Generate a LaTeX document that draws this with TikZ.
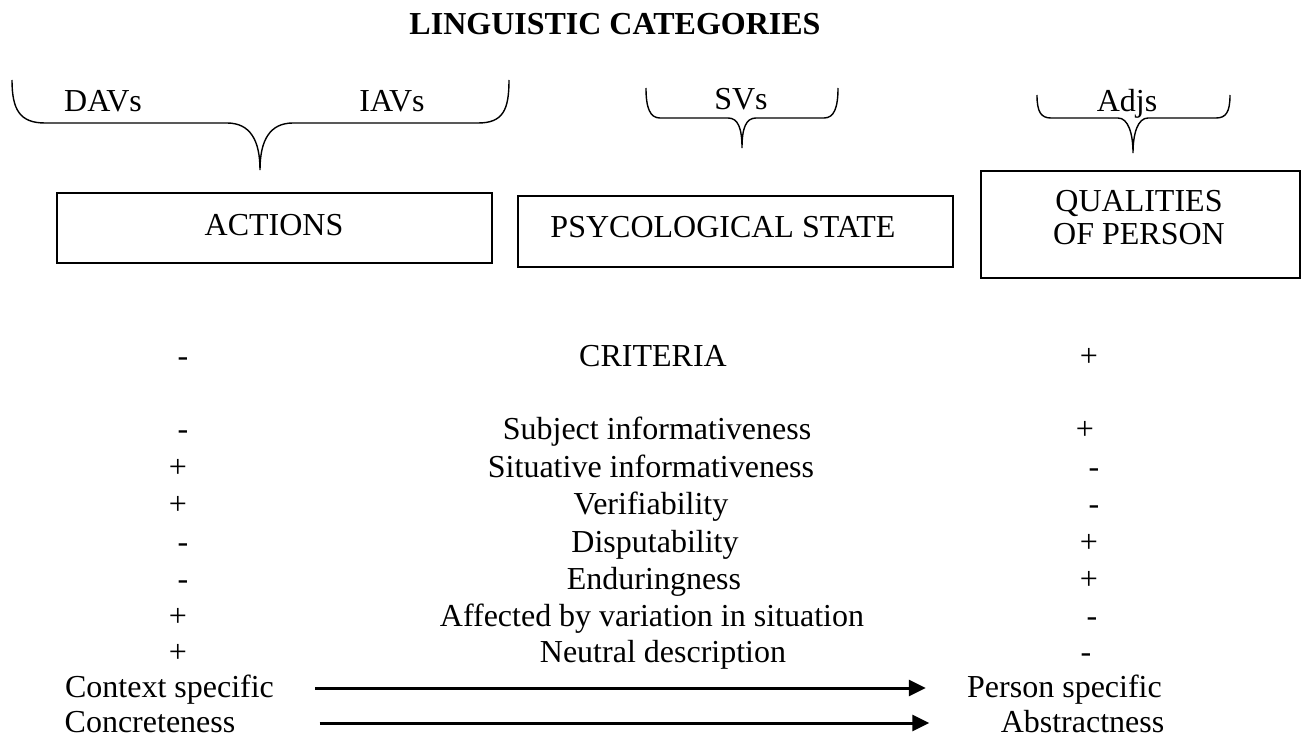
\documentclass[tikz,border=0pt]{standalone}
\usepackage{fontspec}
\setmainfont{Liberation Serif}
\usetikzlibrary{arrows.meta}
\tikzset{
  txt/.style={inner sep=0pt, text height=1em, text depth=0.05em, font=\fontsize{16}{16.5}\selectfont},
  catbox/.style={draw, line width=0.8pt, inner sep=0pt},
  grpbrace/.style={line width=0.7pt},
  longarrow/.style={line width=1.5pt, -{Triangle[length=8.5pt,width=8pt]}},
}
\begin{document}
\begin{tikzpicture}[x=0.5pt,y=-0.5pt]
\useasboundingbox (0,0) rectangle (1307,738);
\node[txt, font={\fontsize{16}{16.5}\selectfont\bfseries}] (title) at (615,25) {LINGUISTIC CATEGORIES};

% groups
\node[txt] (davs) at (103,102) {DAVs};
\node[txt] (iavs) at (392,102) {IAVs};
\node[txt] (svs) at (741,100) {SVs};
\node[txt] (adjs) at (1127,102) {Adjs};
\draw[grpbrace] (12,80) .. controls (12,110) and (20,123) .. (45,123) -- (227,123)
  .. controls (250,123) and (260,140) .. (260,170) .. controls (260,140) and (270,123) .. (293,123)
  -- (478,123) .. controls (503,123) and (509,110) .. (509,80);
\draw[grpbrace] (646,88) .. controls (646,108) and (650,118) .. (660,118) -- (728,118)
  .. controls (738,118) and (742,128) .. (742,148) .. controls (742,128) and (746,118) .. (756,118)
  -- (824,118) .. controls (834,118) and (838,108) .. (838,88);
\draw[grpbrace] (1037,95) .. controls (1037,112) and (1041,118) .. (1051,118) -- (1118,118)
  .. controls (1128,118) and (1133,133) .. (1133,153) .. controls (1133,133) and (1138,118) .. (1148,118)
  -- (1216,118) .. controls (1226,118) and (1230,112) .. (1230,95);

% categories
\node[catbox, minimum width=217.5pt, minimum height=35pt] (actbox) at (274.5,228) {};
\node[txt] (act) at (274,226) {ACTIONS};
\node[catbox, minimum width=217.5pt, minimum height=35.5pt] (psybox) at (735.5,231.5) {};
\node[txt] (psy) at (723,228) {PSYCOLOGICAL STATE};
\node[catbox, minimum width=159.5pt, minimum height=53.5pt] (qualbox) at (1140.5,224.5) {};
\node[txt, align=center, text height=, text depth=] (qual) at (1139,218) {QUALITIES\\OF PERSON};

% criteria
\node[txt] (critl) at (183,357) {-};
\node[txt] (crit) at (653,357) {CRITERIA};
\node[txt] (critr) at (1089,357) {+};

\node[txt] (subjl) at (183,430) {-};
\node[txt] (subj) at (657,430) {Subject informativeness};
\node[txt] (subjr) at (1085,430) {+};
\node[txt] (sitl) at (178,468) {+};
\node[txt] (sit) at (651,468) {Situative informativeness};
\node[txt] (sitr) at (1094,468) {-};
\node[txt] (verl) at (178,505) {+};
\node[txt] (ver) at (651,505) {Verifiability};
\node[txt] (verr) at (1094,505) {-};
\node[txt] (disl) at (183,543) {-};
\node[txt] (dis) at (655,543) {Disputability};
\node[txt] (disr) at (1089,543) {+};
\node[txt] (endl) at (183,580) {-};
\node[txt] (endu) at (654,580) {Enduringness};
\node[txt] (endr) at (1089,580) {+};
\node[txt] (affl) at (178,617) {+};
\node[txt] (aff) at (652,617) {Affected by variation in situation};
\node[txt] (affr) at (1092,617) {-};
\node[txt] (neul) at (178,653) {+};
\node[txt] (neu) at (663,653) {Neutral description};
\node[txt] (neur) at (1086,653) {-};

% scales
\node[txt] (ctx) at (169.5,688) {Context specific};
\node[txt] (pers) at (1064.5,688) {Person specific};
\node[txt] (conc) at (150,723) {Concreteness};
\node[txt] (abst) at (1082.5,723) {Abstractness};
\draw[longarrow, shorten <=20.5pt, shorten >=20.5pt] (ctx) -- (pers);
\draw[longarrow, shorten <=42pt, shorten >=35.5pt] (conc) -- (abst);

\end{tikzpicture}
\end{document}
